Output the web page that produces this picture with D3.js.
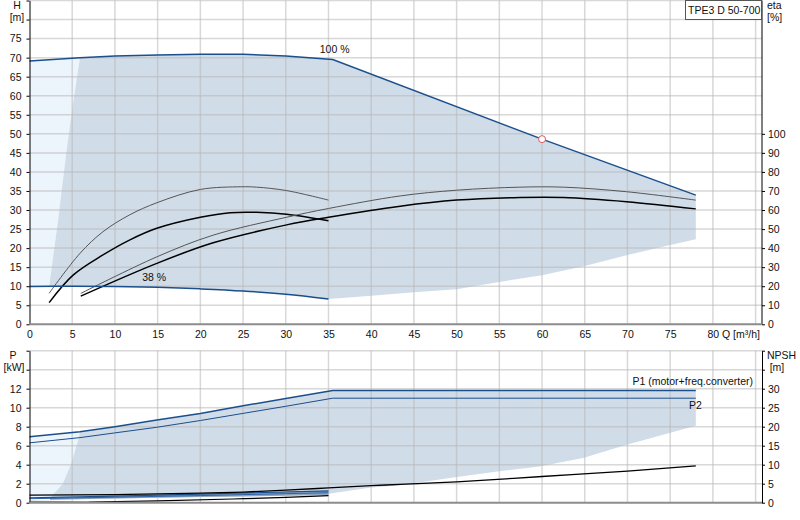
<!DOCTYPE html>
<html>
<head>
<meta charset="utf-8">
<script src="https://cdn.jsdelivr.net/npm/d3@7"></script>
<style>
body { margin: 0; background: #fff; }
text { font-family: "Liberation Sans", Arial, sans-serif; font-size: 10.5px; fill: #111; }
</style>
</head>
<body>
<svg id="chart" width="800" height="520"></svg>
<script>
// ---- data ----
const title = "TPE3 D 50-700";
const qTicks = d3.range(0, 86, 5);
const hTicks = d3.range(0, 86, 5);
const etaTicks = d3.range(0, 101, 10);
const pTicks = d3.range(0, 17, 2);
const npshTicks = d3.range(0, 41, 5);

// head curves
const q100 = [0, 5.9, 10, 15, 20, 25, 30, 35.5, 60, 78];
const h100 = [69.1, 70.0, 70.4, 70.7, 70.9, 70.9, 70.4, 69.5, 48.6, 33.9];
const q38 = [0, 5, 10, 15, 20, 25, 30, 35];
const h38 = [9.9, 10.0, 9.95, 9.7, 9.3, 8.75, 7.9, 6.65];
// operating range edges
const qLeft = [2.3, 3.35, 4.3, 5.1, 5.9];
const hLeft = [10, 27.4, 44.9, 58, 70];
const qLow = [35, 40, 45, 50, 55, 60, 65, 70, 75, 78];
const hLow = [6.65, 7.5, 8.4, 9.2, 11.1, 12.9, 15.3, 18.2, 20.8, 22.3];
// efficiency curves [%]
const qEtaA = [2.3, 5.9, 8.6, 11.7, 14.9, 20, 24.8, 26.6, 30.1, 35];
const etaA = [16.3, 37.2, 48.6, 57.4, 63.8, 70.8, 72.2, 72.0, 70.2, 65.2];
const qEtaB = [2.3, 5.1, 8.6, 11.7, 14.9, 20, 23.5, 26.6, 30.1, 35];
const etaB = [11.4, 25.8, 36.4, 44.2, 50.4, 56.2, 58.6, 58.8, 57.8, 54.4];
const qEtaC = [6, 14.9, 21.5, 30.1, 35, 43.4, 50, 57.4, 62.5, 69.9, 78];
const etaC = [16.2, 35.4, 46.8, 56.2, 60.8, 67.4, 70.4, 72.0, 72.0, 69.6, 65.2];
const etaD = [14.8, 32.0, 42.8, 52.2, 56.2, 62.0, 65.2, 66.6, 66.6, 64.4, 60.6];
const dutyQ = [60];
const dutyH = [48.6];

// power curves [kW]
const qP1 = [0, 5.9, 10, 14.9, 20, 25, 30, 35.5, 78];
const p1 = [6.95, 7.47, 8.0, 8.7, 9.4, 10.2, 10.98, 11.8, 11.8];
const qP2 = [0, 5.9, 10, 14.9, 20, 25, 30, 35.5, 78];
const p2 = [6.3, 6.85, 7.35, 7.94, 8.65, 9.4, 10.15, 11.0, 11.0];
const qP38 = [0, 10, 20, 35];
const p1_38 = [0.5, 0.7, 0.9, 1.25];
const p2_38 = [0.42, 0.58, 0.75, 1.05];
const pBand38 = [0.3, 0.45, 0.6, 0.8];
const qPLeft = [2.4, 3.9, 4.9, 5.7, 5.9];
const pLeft = [0.5, 2.0, 4.15, 6.6, 7.47];
const qPLow = [35, 40, 43.4, 50, 55, 59.7, 64.8, 69.9, 78];
const pLow = [0.95, 1.6, 1.85, 2.7, 3.3, 3.8, 4.7, 6.1, 8.1];
// NPSH [m]
const qNpsh = [0, 10, 20, 25, 30, 35, 40, 43.4, 50, 60, 70, 78];
const npsh = [2.0, 2.15, 2.5, 2.8, 3.3, 3.9, 4.5, 4.8, 5.5, 6.9, 8.3, 9.7];
const qNpsh38 = [6.9, 15, 23.8, 30, 35];
const npsh38 = [0.18, 0.5, 0.98, 1.38, 1.85];
const qNpshLow = [0, 6.9];
const npshLow = [0.3, 0.18];

// ---- scales ----
const svg = d3.select("#chart");
const x = d3.scaleLinear().domain([0, 85.75]).range([29.5, 762]);
const yH = d3.scaleLinear().domain([0, 85]).range([324.3, 0.5]);
const yEta = d3.scaleLinear().domain([0, 170]).range([324.3, 0.5]);
const yP = d3.scaleLinear().domain([0, 16]).range([502.7, 350.7]);
const yN = d3.scaleLinear().domain([0, 40]).range([502.7, 350.7]);

const zip = (qs, vs) => qs.map((q, i) => [q, vs[i]]);
const lineFor = (ys, curve) => d3.line().x(d => x(d[0])).y(d => ys(d[1])).curve(curve || d3.curveLinear);
const smooth = d3.curveCatmullRom.alpha(0.5);

const light = "#ecf4fc", steel = "#d0dce8", blue = "#1b4f8c";

// ---- top panel: regions ----
const topG = svg.append("g");
const darkTop = [].concat(
    zip(qLeft, hLeft),
    zip(q100, h100).filter(d => d[0] > 5.9),
    zip(qLow, hLow).reverse(),
    zip(q38, h38).filter(d => d[0] > 2.3 && d[0] < 35).reverse(),
    [[2.3, 10]]
);
const lightTop = [].concat(
    zip(q100, h100).filter(d => d[0] < 5.9),
    [[5.9, 70]],
    zip(qLeft, hLeft).reverse(),
    [[0, 9.9]]
);
topG.append("path").attr("d", lineFor(yH)(lightTop) + "Z").attr("fill", light);
topG.append("path").attr("d", lineFor(yH)(darkTop) + "Z").attr("fill", steel);

// ---- bottom panel: regions ----
const botG = svg.append("g");
const darkBot = [].concat(
    zip(qPLeft, pLeft),
    zip(qP1, p1).filter(d => d[0] > 5.9),
    zip(qPLow, pLow).reverse(),
    [[35, 0.8]],
    zip(qP38, pBand38).filter(d => d[0] > 2.4 && d[0] < 35).reverse(),
    [[2.4, 0.32]]
);
const lightBot = [].concat(
    zip(qP1, p1).filter(d => d[0] < 5.9),
    [[5.9, 7.47]],
    zip(qPLeft, pLeft).reverse(),
    [[0, 0.5]]
);
botG.append("path").attr("d", lineFor(yP)(lightBot) + "Z").attr("fill", light);
botG.append("path").attr("d", lineFor(yP)(darkBot) + "Z").attr("fill", steel);
const band = [].concat(zip(qP38, p1_38).map(d => [Math.max(d[0], 2.4), d[1]]),
    zip(qP38, pBand38).map(d => [Math.max(d[0], 2.4), d[1]]).reverse());
botG.append("path").attr("d", lineFor(yP)(band) + "Z").attr("fill", "#8fa4bd");

// ---- grids ----
const grid = svg.append("g").attr("stroke", "#b8b8b8").attr("stroke-opacity", 0.55).attr("stroke-width", 1.5);
grid.selectAll(".vt").data(qTicks.filter(d => d > 0)).join("line")
    .attr("class", "vt").attr("x1", d => x(d)).attr("x2", d => x(d)).attr("y1", yH(85)).attr("y2", yH(0));
grid.selectAll(".ht").data(hTicks.filter(d => d > 0)).join("line")
    .attr("class", "ht").attr("x1", x(0)).attr("x2", x.range()[1]).attr("y1", d => yH(d)).attr("y2", d => yH(d));
grid.selectAll(".vb").data(qTicks.filter(d => d > 0)).join("line")
    .attr("class", "vb").attr("x1", d => x(d)).attr("x2", d => x(d)).attr("y1", yP(16)).attr("y2", yP(0));
grid.selectAll(".hb").data(pTicks.filter(d => d > 0)).join("line")
    .attr("class", "hb").attr("x1", x(0)).attr("x2", x.range()[1]).attr("y1", d => yP(d)).attr("y2", d => yP(d));

// ---- curves top ----
const curves = svg.append("g").attr("fill", "none");
curves.append("path").attr("d", lineFor(yEta, smooth)(zip(qEtaA, etaA))).attr("stroke", "#555").attr("stroke-width", 1);
curves.append("path").attr("d", lineFor(yEta, smooth)(zip(qEtaB, etaB))).attr("stroke", "#000").attr("stroke-width", 1.5);
curves.append("path").attr("d", lineFor(yEta, smooth)(zip(qEtaC, etaC))).attr("stroke", "#555").attr("stroke-width", 1);
curves.append("path").attr("d", lineFor(yEta, smooth)(zip(qEtaC, etaD))).attr("stroke", "#000").attr("stroke-width", 1.5);
curves.append("path").attr("d", lineFor(yH)(zip(q100, h100))).attr("stroke", blue).attr("stroke-width", 1.5);
curves.append("path").attr("d", lineFor(yH, smooth)(zip(q38, h38))).attr("stroke", blue).attr("stroke-width", 1.5);

svg.append("g").selectAll("circle").data(zip(dutyQ, dutyH)).join("circle")
    .attr("cx", d => x(d[0])).attr("cy", d => yH(d[1])).attr("r", 3.5)
    .attr("fill", "#fff").attr("stroke", "#e05a5a").attr("stroke-width", 1);

// ---- curves bottom ----
curves.append("path").attr("d", lineFor(yP)(zip(qP1, p1))).attr("stroke", blue).attr("stroke-width", 1.5);
curves.append("path").attr("d", lineFor(yP)(zip(qP2, p2))).attr("stroke", blue).attr("stroke-width", 1);
curves.append("path").attr("d", lineFor(yP)(zip(qP38, p1_38))).attr("stroke", blue).attr("stroke-width", 1.2);
curves.append("path").attr("d", lineFor(yP)(zip(qP38, p2_38))).attr("stroke", "#2d62a8").attr("stroke-width", 1);
curves.append("path").attr("d", lineFor(yN, d3.curveMonotoneX)(zip(qNpsh, npsh))).attr("stroke", "#000").attr("stroke-width", 1.3);
curves.append("path").attr("d", lineFor(yN, d3.curveMonotoneX)(zip(qNpsh38, npsh38))).attr("stroke", "#000").attr("stroke-width", 1.2);
curves.append("path").attr("d", lineFor(yN)(zip(qNpshLow, npshLow))).attr("stroke", "#888").attr("stroke-width", 1.5);

// ---- axes ----
const styleAxis = g => {
    g.selectAll("path.domain").attr("stroke", "#000");
    g.selectAll(".tick line").attr("stroke", "#000");
    g.selectAll("text").attr("font-size", null).attr("font-family", null).attr("fill", "#111");
};
svg.append("g").attr("transform", `translate(${x(0)},0)`)
    .call(d3.axisLeft(yH).tickValues(hTicks).tickSize(3).tickSizeOuter(0).tickPadding(5)
        .tickFormat(d => d <= 75 ? d : ""))
    .call(styleAxis);
svg.append("g").attr("transform", `translate(${x.range()[1]},0)`)
    .call(d3.axisRight(yEta).tickValues(etaTicks).tickSize(3).tickSizeOuter(0).tickPadding(3))
    .call(styleAxis)
    .call(g => g.select("path.domain").attr("d", `M0,${yEta(170)}V${yEta(0)}`));
svg.append("g").attr("transform", `translate(${x(0)},0)`)
    .call(d3.axisLeft(yP).tickValues(pTicks).tickSize(3).tickSizeOuter(0).tickPadding(5)
        .tickFormat(d => d <= 12 ? d : ""))
    .call(styleAxis);
svg.append("g").attr("transform", `translate(${x.range()[1]},0)`)
    .call(d3.axisRight(yN).tickValues(npshTicks).tickSize(3).tickSizeOuter(0).tickPadding(3)
        .tickFormat(d => d <= 30 ? d : ""))
    .call(styleAxis);

// x axis labels between panels
const xa = svg.append("g").attr("transform", `translate(0,${yH(0)})`)
    .call(d3.axisBottom(x).tickValues(qTicks.filter(d => d <= 80)).tickSize(0).tickPadding(6))
    .call(styleAxis);
xa.select("path.domain").remove();
xa.selectAll(".tick text").filter(d => d === 80)
    .attr("text-anchor", "start").attr("x", -6).text("80 Q [m³/h]");

// bottom lines of each panel
svg.append("line").attr("x1", x(0)).attr("x2", x.range()[1]).attr("y1", yH(0)).attr("y2", yH(0))
    .attr("stroke", "#8c8c8c").attr("stroke-width", 2);
svg.append("line").attr("x1", x(0)).attr("x2", x.range()[1]).attr("y1", yP(0)).attr("y2", yP(0))
    .attr("stroke", "#8c8c8c").attr("stroke-width", 2);

// ---- labels ----
const lab = svg.append("g");
lab.append("text").attr("x", 17).attr("y", 9).attr("text-anchor", "middle").text("H");
lab.append("text").attr("x", 17).attr("y", 21).attr("text-anchor", "middle").text("[m]");
lab.append("text").attr("x", 767).attr("y", 9).text("eta");
lab.append("text").attr("x", 767).attr("y", 21).text("[%]");
lab.append("text").attr("x", 13).attr("y", 359).attr("text-anchor", "middle").text("P");
lab.append("text").attr("x", 14).attr("y", 371).attr("text-anchor", "middle").text("[kW]");
lab.append("text").attr("x", 767).attr("y", 359).text("NPSH");
lab.append("text").attr("x", 777).attr("y", 371).attr("text-anchor", "middle").text("[m]");
lab.append("text").attr("x", x(35.5) - 13).attr("y", yH(h100[7]) - 7).text("100 %");
lab.append("text").attr("x", x(13.2)).attr("y", yH(h38[3]) - 6).text("38 %");
lab.append("text").attr("x", 753).attr("y", 385).attr("text-anchor", "end").attr("fill", "#2b5c9e").text("P1 (motor+freq.converter)");
lab.append("text").attr("x", 689).attr("y", 409).attr("fill", "#2b5c9e").text("P2");

// title box
lab.append("rect").attr("x", 685.5).attr("y", 0.5).attr("width", 76).attr("height", 19)
    .attr("fill", "#fff").attr("stroke", "#555");
lab.append("text").attr("x", 688).attr("y", 13.5).text(title);
</script>
</body>
</html>
